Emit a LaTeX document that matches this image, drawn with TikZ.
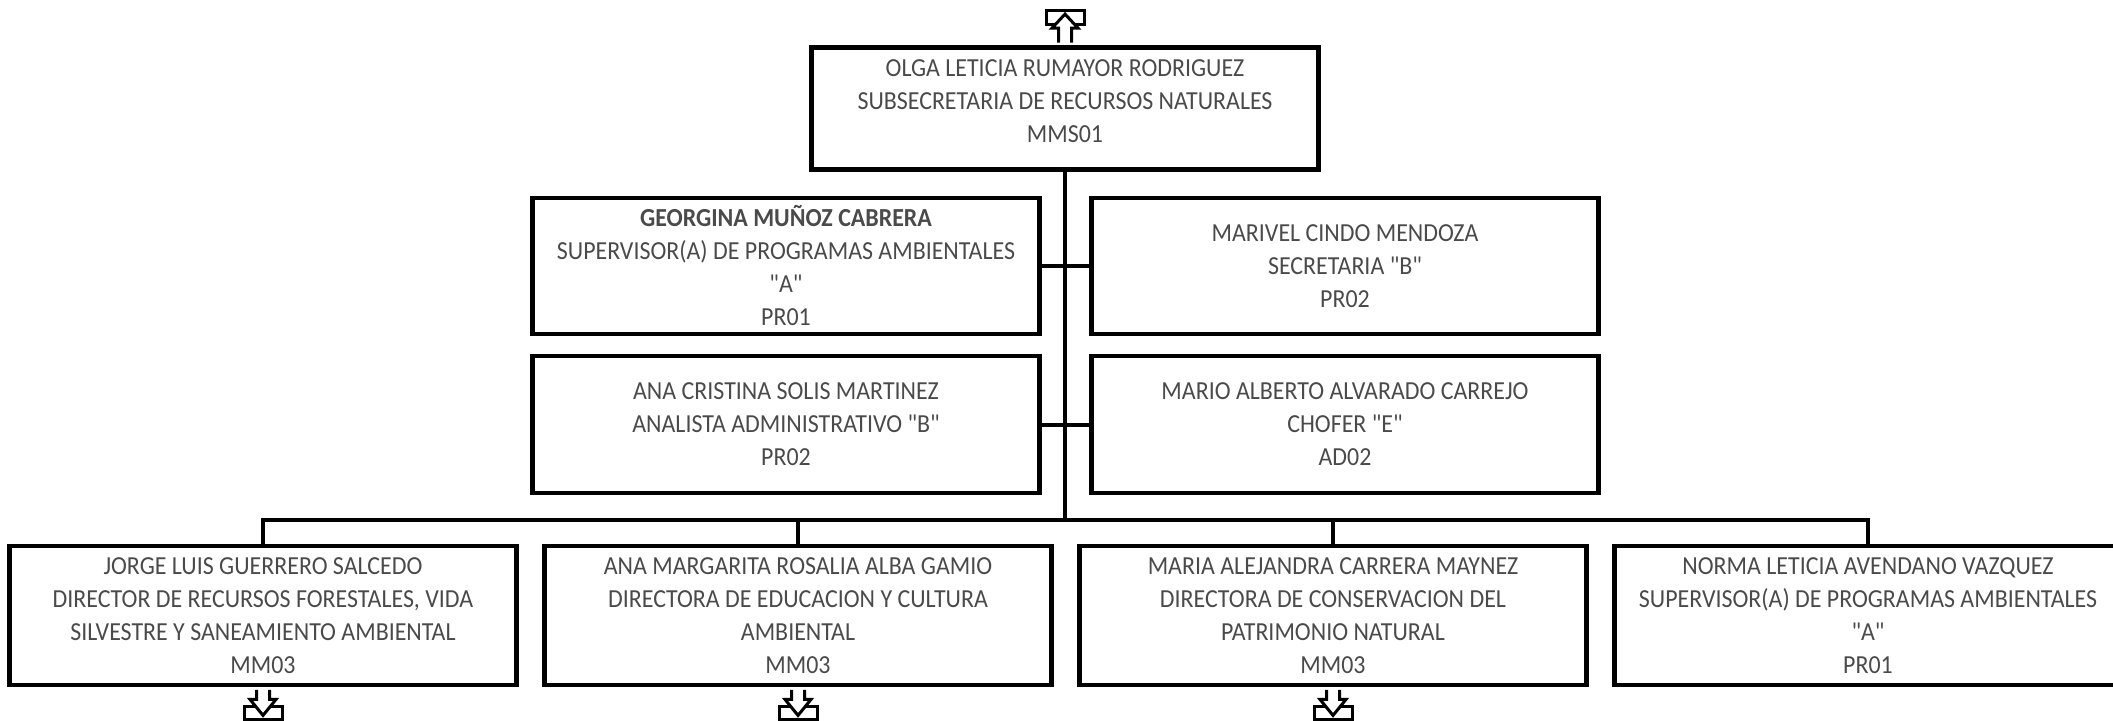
\documentclass[tikz,border=0pt]{standalone}
\usepackage{fontspec}
\newfontfamily\orgfont{Carlito}[FakeStretch=0.92]
\usepackage{tikz}
\usetikzlibrary{calc}
\definecolor{txtgray}{HTML}{4A4A4A}

\begin{document}
\begin{tikzpicture}[x=0.5pt,y=-0.5pt,
    post/.style={draw,line width=2.4pt,minimum width=253.5pt,align=center,inner sep=0pt,
      text=txtgray,font=\orgfont\fontsize{13}{16.5}\selectfont},
    link/.style={line width=2pt},
    tag/.style={line width=1.5pt}]
  \useasboundingbox (0,0) rectangle (2113,721);

  \node[post,minimum height=61pt] (olga) at (1065,108.5) {OLGA LETICIA RUMAYOR RODRIGUEZ\\SUBSECRETARIA DE RECURSOS NATURALES\\MMS01\\[-9.5pt]\mbox{}};

  \node[post,minimum height=68pt] (georgina) at (786,266) {\textbf{GEORGINA MUÑOZ CABRERA}\\SUPERVISOR(A) DE PROGRAMAS AMBIENTALES\\"A"\\PR01};
  \node[post,minimum height=68pt] (marivel) at (1345,266) {MARIVEL CINDO MENDOZA\\SECRETARIA "B"\\PR02};
  \node[post,minimum height=68.5pt] (ana) at (786,424.5) {ANA CRISTINA SOLIS MARTINEZ\\ANALISTA ADMINISTRATIVO "B"\\PR02};
  \node[post,minimum height=68.5pt] (mario) at (1345,424.5) {MARIO ALBERTO ALVARADO CARREJO\\CHOFER "E"\\AD02};

  \node[post,minimum height=69.5pt] (jorge) at (263,615.5) {JORGE LUIS GUERRERO SALCEDO\\DIRECTOR DE RECURSOS FORESTALES, VIDA\\SILVESTRE Y SANEAMIENTO AMBIENTAL\\MM03};
  \node[post,minimum height=69.5pt] (anamar) at (798,615.5) {ANA MARGARITA ROSALIA ALBA GAMIO\\DIRECTORA DE EDUCACION Y CULTURA\\AMBIENTAL\\MM03};
  \node[post,minimum height=69.5pt] (mariaal) at (1333,615.5) {MARIA ALEJANDRA CARRERA MAYNEZ\\DIRECTORA DE CONSERVACION DEL\\PATRIMONIO NATURAL\\MM03};
  \node[post,minimum height=69.5pt] (norma) at (1868,615.5) {NORMA LETICIA AVENDANO VAZQUEZ\\SUPERVISOR(A) DE PROGRAMAS AMBIENTALES\\"A"\\PR01};

  \coordinate (bus) at (1065,520);
  \draw[link] (olga.south) -- (bus);
  \draw[link] (georgina.east) -- (marivel.west);
  \draw[link] (ana.east) -- (mario.west);
  \draw[link] (jorge.north) |- (bus) -| (norma.north);
  \draw[link] (anamar.north) -- (anamar.north |- bus);
  \draw[link] (mariaal.north) -- (mariaal.north |- bus);

  \draw[tag] ($(olga.north)+(-19,-35)$) rectangle ++(38,14);
  \draw[tag,fill=white] ($(olga.north)+(-6.5,-2.5)$) -- ++(0,-14.5) -- ++(-6.5,0) -- ++(13,-14) -- ++(13,14) -- ++(-6.5,0) -- ++(0,14.5);
  \foreach \b in {jorge,anamar,mariaal} {
    \draw[tag] ($(\b.south)+(-19,19)$) rectangle ++(38,13);
    \draw[tag,fill=white] ($(\b.south)+(-6.5,2.5)$) -- ++(0,9.5) -- ++(-6.5,0) -- ++(13,16) -- ++(13,-16) -- ++(-6.5,0) -- ++(0,-9.5);
  }
\end{tikzpicture}
\end{document}
